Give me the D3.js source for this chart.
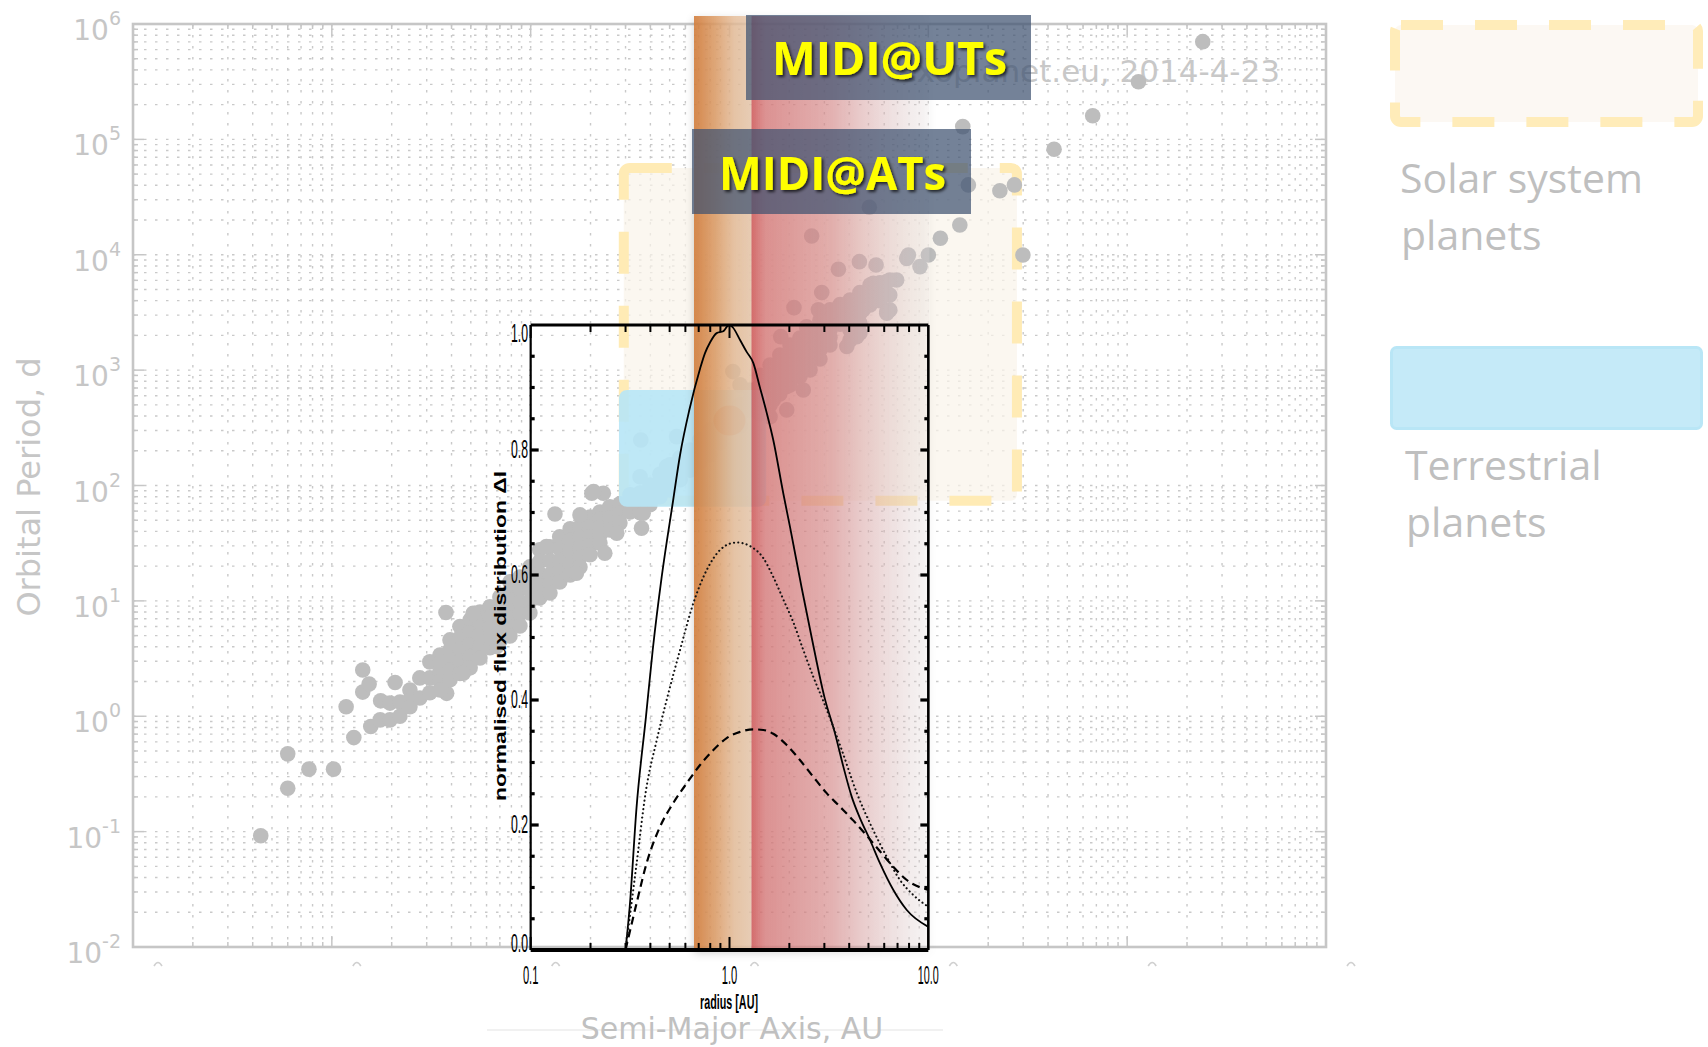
<!DOCTYPE html>
<html><head><meta charset="utf-8">
<script src="https://cdn.jsdelivr.net/npm/d3@7"></script>
<style>body{margin:0;background:#fff}svg{display:block}</style>
</head><body>
<svg id="c" width="1708" height="1047"></svg>
<script>
// ---------------- DATA ----------------
// exoplanets: [semi-major axis (AU), orbital period (d)]
const planets = [
 [0.00439,0.092],[0.0060,0.238],[0.0060,0.472],[0.00767,0.348],[0.0102,0.348],[0.0129,0.653],[0.0118,1.21],[0.0143,1.62],[0.0154,1.90],[0.0143,2.52],[0.0176,1.36],[0.0157,0.814],[0.0175,0.93],[0.0208,1.96],[0.0375,7.92],[0.0378,1.58],
 [0.0196,1.3],[0.0196,0.93],[0.0220,1.33],[0.0220,1.0],
 [0.0247,1.69],[0.0247,1.39],[0.0247,1.21],[0.0277,2.15],[0.0277,1.44],
 [0.0311,2.96],[0.0311,2.15],[0.0311,1.6],[0.035,3.4],[0.035,2.9],[0.035,2.43],[0.035,2.0],[0.035,1.69],
 [0.0393,4.59],[0.0393,3.76],[0.0393,3.08],[0.0393,2.52],[0.0393,2.07],
 [0.0441,6.0],[0.0441,4.8],[0.0441,3.8],[0.0441,3.0],[0.0441,2.35],
 [0.0496,6.84],[0.0496,5.3],[0.0496,4.16],[0.0496,3.3],[0.0496,2.63],
 [0.0556,8.0],[0.0556,6.4],[0.0556,5.07],[0.0556,4.0],[0.0556,3.2],
 [0.0624,8.87],[0.0624,7.2],[0.0624,5.83],[0.0624,4.8],[0.0624,3.92],
 [0.070,10.8],[0.070,8.7],[0.070,6.98],[0.070,5.6],[0.070,4.5],
 [0.0787,14.6],[0.0787,12.2],[0.0787,10.2],[0.0787,8.5],[0.0787,7.12],[0.0787,5.9],[0.0787,4.97],
 [0.0883,16.1],[0.0883,12.6],[0.0883,9.8],[0.0883,7.7],[0.0883,6.07],
 [0.0991,19.7],[0.0991,15.6],[0.0991,12.4],[0.0991,9.9],[0.0991,7.87],
 [0.111,27.7],[0.111,21.9],[0.111,17.3],[0.111,13.5],[0.111,10.6],
 [0.125,29.4],[0.125,22.2],[0.125,16.8],[0.125,14.0],[0.125,11.7],
 [0.140,35.9],[0.140,28.5],[0.140,22.6],[0.140,18.2],[0.140,14.6],
 [0.158,42.1],[0.158,33.5],[0.158,26.6],[0.158,21.1],[0.158,16.8],
 [0.177,43.8],[0.177,35.5],[0.177,28.8],[0.177,23.8],[0.177,19.7],
 [0.199,53.4],[0.199,43.8],[0.199,35.9],[0.199,30],[0.199,25.1],
 [0.223,59],[0.223,51],[0.223,43.8],[0.223,37.3],[0.223,31.8],
 [0.25,65.3],[0.25,52],[0.25,41.2],[0.281,69.3],[0.281,57],[0.281,47.4],
 [0.316,83],[0.316,70],[0.316,59],[0.355,86],[0.355,71],[0.355,58],
 [0.398,101],[0.398,83],[0.398,68],[0.447,125],[0.447,100],[0.447,80],
 [0.502,151],[0.502,118],[0.502,91.6],[0.564,175],[0.564,140],[0.564,112],
 [0.633,203],[0.633,166],[0.633,136],[0.711,250],[0.711,200],[0.711,160],
 [0.798,303],[0.798,236],[0.798,184],[0.896,340],[0.896,283],[0.896,235],
 [1.13,500],[1.13,406],[1.13,330],[1.268,673],[1.268,551],[1.268,452],
 [1.42,900],[1.42,735],[1.42,600],[1.42,502],[1.42,420],
 [1.6,1109],[1.6,909],[1.6,745],[1.6,610],[1.6,499],
 [1.79,1350],[1.79,1100],[1.79,900],[1.79,747],[1.79,620],
 [2.015,1652],[2.015,1353],[2.015,1109],[2.015,909],[2.015,745],
 [2.26,1900],[2.26,1570],[2.26,1300],[2.26,1070],[2.26,880],
 [2.54,2230],[2.54,1826],[2.54,1496],[2.54,1226],[2.54,1005],
 [2.85,2700],[2.85,2200],[2.85,1800],[2.85,1500],[2.85,1250],
 [3.2,3325],[3.2,2720],[3.2,2230],[3.2,1920],[3.2,1652],
 [3.6,3700],[3.6,3040],[3.6,2500],
 [4.04,4057],[4.04,3320],[4.04,2723],[4.04,2230],[4.04,1827],
 [4.53,4700],[4.53,3820],[4.53,3100],[4.53,2550],[4.53,2100],
 [5.09,5470],[5.09,4480],[5.09,3675],[5.71,5700],[5.71,4780],[5.71,4000],[6.4,6050],[6.4,4480],[6.4,3325],
 [0.0514,7.8],[0.12,29.6],[0.1325,56.7],[0.177,55.6],[0.203,85.7],[0.232,85.7],[0.207,88.6],[0.361,42.7],[0.236,25.9],[0.368,57.5],[0.271,38.6],[0.17,17.4],[0.0458,2.36],[0.0675,4.02],
 [0.358,248],[0.542,265],[0.355,119],[0.483,146],
 [1.04,971],[1.13,745],[1.6,395],[1.66,552],[1.94,452],[1.54,483],[1.94,720],[2.35,673],[2.09,940],[2.44,1310],[2.18,1600],[1.81,1950],[3.08,2090],[2.44,2380],[3.89,1600],[4.36,1950],[3.89,2720],[6.18,3210],[6.93,6050],[6.18,5850],[5.29,5660],[3.6,3550],[2.8,3330],[2.11,3480],[2.91,4700],[4.7,3330],[6.18,3110],
 [3.53,7480],[4.5,8710],[5.46,8160],[7.94,9960],[10.0,9960],[9.08,7890],[11.5,13900],[2.59,14550],[5.05,25800],[7.79,9300],
 [14.4,18100],[29.9,9960],[22.9,35900],[27.1,40300],[15.9,40300],[14.9,129000],[42.9,82000],[67.1,160000],[114,316000],[240,703000]
];
const earth = [1.0, 365.25];
const solarBoxA = [0.294, 27.9], solarBoxP = [73.6, 56600];
const terrBoxA = [0.278, 1.53], terrBoxP = [65.3, 673];
const yExps = [6,5,4,3,2,1,0,-1,-2];
const xExps = [-3,-2,-1,0,1,2,3];
// inset (flux distribution vs radius)
const solidR = [0.3,0.315,0.341,0.38,0.411,0.456,0.521,0.564,0.628,0.711,0.753,0.798,0.862,0.93,0.975,1.0,1.04,1.13,1.22,1.318,1.42,1.54,1.66,1.866,2.015,2.305,2.59,3.0,3.39,3.74,4.12,4.53,5.09,5.71,6.67,7.79,10];
const solidF = [0,0.07,0.229,0.373,0.48,0.597,0.72,0.792,0.864,0.93,0.955,0.972,0.987,0.99,0.998,1.0,0.996,0.976,0.957,0.939,0.901,0.859,0.816,0.73,0.677,0.58,0.50,0.405,0.347,0.293,0.245,0.211,0.176,0.139,0.096,0.064,0.037];
const dottedR = [0.3,0.34,0.38,0.43,0.483,0.564,0.658,0.768,0.896,1.0,1.09,1.29,1.48,1.66,1.87,2.09,2.35,2.64,2.95,3.67,4.37,5.19,6.18,7.2,8.4,10];
const dottedF = [0,0.135,0.255,0.335,0.40,0.48,0.555,0.608,0.64,0.65,0.652,0.645,0.627,0.597,0.56,0.525,0.48,0.437,0.40,0.32,0.251,0.197,0.149,0.112,0.088,0.069];
const dashedR = [0.3,0.341,0.383,0.447,0.521,0.61,0.711,0.83,0.968,1.13,1.318,1.48,1.66,1.94,2.26,2.64,3.08,3.6,4.2,4.9,5.71,6.67,7.79,10];
const dashedF = [0,0.075,0.139,0.197,0.235,0.267,0.296,0.32,0.339,0.349,0.353,0.352,0.346,0.328,0.304,0.277,0.251,0.229,0.207,0.183,0.158,0.133,0.112,0.096];
const insetYTicks = ["0.0","0.2","0.4","0.6","0.8","1.0"];
const insetXTicks = [[0.1,"0.1"],[1,"1.0"],[10,"10.0"]];
const orangeBandAU = [0.663, 1.29];
const redBandAU = [1.29, 10.1];
const labels = {ut:"MIDI@UTs", at:"MIDI@ATs"};

// ---------------- DRAW ----------------
const svg = d3.select('#c');
const defs = svg.append('defs');
const x = d3.scaleLog().domain([1e-3,1e3]).range([133,1326]);
const y = d3.scaleLog().domain([1e-2,1e6]).range([947,24]);
const xi = d3.scaleLog().domain([0.1,10]).range([x(0.1), x(10)]);
const yi = d3.scaleLinear().domain([0,1]).range([950,325]);
const GREY = '#c6c6c6';
const FONT = "'DejaVu Sans', sans-serif";
const NARROW = "'Liberation Sans Narrow','Liberation Sans',sans-serif";

const og = defs.append('linearGradient').attr('id','og');
[[0,'#d27d3c',0.9],[0.35,'#dc9a63',0.84],[0.7,'#e5bb96',0.8],[1,'#e7c6aa',0.8]].forEach(s=>og.append('stop').attr('offset',s[0]).attr('stop-color',s[1]).attr('stop-opacity',s[2]));
const rg = defs.append('linearGradient').attr('id','rg');
[[0,'#d05858',0.85],[0.04,'#d56a6a',0.8],[0.08,'#d87a7a',0.76],[0.45,'#dc8c8c',0.6],[0.75,'#e4bcbc',0.4],[1,'#ece2e2',0.2]].forEach(s=>rg.append('stop').attr('offset',s[0]).attr('stop-color',s[1]).attr('stop-opacity',s[2]));
const sh = defs.append('filter').attr('id','sh').attr('x','-10%').attr('y','-5%').attr('width','130%').attr('height','115%');
sh.append('feDropShadow').attr('dx',0).attr('dy',3).attr('stdDeviation',4).attr('flood-color','#000').attr('flood-opacity',0.22);
const ts = defs.append('filter').attr('id','ts').attr('x','-10%').attr('y','-20%').attr('width','130%').attr('height','150%');
ts.append('feDropShadow').attr('dx',2).attr('dy',2).attr('stdDeviation',1.5).attr('flood-color','#000').attr('flood-opacity',0.7);

// grid
const gridA = [], gridP = [];
for (let e=-3;e<3;e++) for (let k=1;k<10;k++) gridA.push([k*Math.pow(10,e), k===1]);
gridA.push([1e3,true]);
for (let e=-2;e<6;e++) for (let k=1;k<10;k++) gridP.push([k*Math.pow(10,e), k===1]);
gridP.push([1e6,true]);
const grid = svg.append('g').attr('stroke','#c9c9c9').attr('stroke-width',1.4).attr('stroke-dasharray','2.5,8.5');
grid.selectAll('.gx').data(gridA).join('line').attr('x1',d=>x(d[0])).attr('x2',d=>x(d[0])).attr('y1',24).attr('y2',947);
grid.selectAll('.gy').data(gridP).join('line').attr('y1',d=>y(d[0])).attr('y2',d=>y(d[0])).attr('x1',133).attr('x2',1326);

// ticks
const tk = svg.append('g').attr('stroke',GREY).attr('stroke-width',1.5);
gridA.forEach(d=>{const L=d[1]?11:5, X=x(d[0]);
  tk.append('line').attr('x1',X).attr('x2',X).attr('y1',947).attr('y2',947-L);
  tk.append('line').attr('x1',X).attr('x2',X).attr('y1',24).attr('y2',24+L);});
gridP.forEach(d=>{const L=d[1]?11:5, Y=y(d[0]);
  tk.append('line').attr('y1',Y).attr('y2',Y).attr('x1',133).attr('x2',133+L);
  tk.append('line').attr('y1',Y).attr('y2',Y).attr('x1',1326).attr('x2',1326-L);});
svg.append('rect').attr('x',133).attr('y',24).attr('width',1193).attr('height',923).attr('fill','none').attr('stroke',GREY).attr('stroke-width',2.6);

// y tick labels
yExps.forEach(e=>{
  const t = svg.append('text').attr('x',121).attr('y',y(Math.pow(10,e))+16).attr('text-anchor','end')
    .attr('font-family',FONT).attr('font-size',28).attr('fill',GREY);
  t.append('tspan').text('10');
  t.append('tspan').attr('dy',-15).attr('font-size',19).text(String(e));
});
svg.append('g').selectAll('path').data(xExps).join('path')
  .attr('d',e=>{const X=x(Math.pow(10,e))+25; return `M${X-4},966 Q${X},959 ${X+4},966`;})
  .attr('fill','none').attr('stroke','#d0d0d0').attr('stroke-width',1.6);

// axis titles
svg.append('text').attr('transform','translate(40,487) rotate(-90)').attr('text-anchor','middle')
  .attr('font-family',FONT).attr('font-size',32).attr('fill',GREY).text('Orbital Period, d');
svg.append('line').attr('x1',487).attr('x2',943).attr('y1',1030).attr('y2',1030).attr('stroke','#ececec').attr('stroke-width',1.5);
svg.append('text').attr('x',732).attr('y',1039).attr('text-anchor','middle')
  .attr('font-family',FONT).attr('font-size',30).attr('fill','#c0c0c0').text('Semi-Major Axis, AU');
svg.append('text').attr('x',1280).attr('y',82).attr('text-anchor','end')
  .attr('font-family',FONT).attr('font-size',31).attr('fill','#c8c8c8').text('exoplanet.eu, 2014-4-23');

// solar system box
svg.append('rect').attr('x',x(solarBoxA[0])).attr('y',y(solarBoxP[1]))
  .attr('width',x(solarBoxA[1])-x(solarBoxA[0])).attr('height',y(solarBoxP[0])-y(solarBoxP[1]))
  .attr('rx',6).attr('fill','#f9f3ea').attr('fill-opacity',0.7)
  .attr('stroke','#ffebb5').attr('stroke-width',10).attr('stroke-dasharray','42,32');

// planets
svg.append('g').selectAll('circle').data(planets).join('circle')
  .attr('cx',d=>x(d[0])).attr('cy',d=>y(d[1])).attr('r',7.8).attr('fill','#bdbdbd');

// terrestrial box
svg.append('rect').attr('x',x(terrBoxA[0])).attr('y',y(terrBoxP[1]))
  .attr('width',x(terrBoxA[1])-x(terrBoxA[0])).attr('height',y(terrBoxP[0])-y(terrBoxP[1]))
  .attr('rx',8).attr('fill','#b7e5f6').attr('fill-opacity',0.9);
svg.append('ellipse').attr('cx',x(earth[0])).attr('cy',y(earth[1])).attr('rx',16).attr('ry',15).attr('fill','#bdbdbd');

// bands
const bands = svg.append('g').attr('filter','url(#sh)');
bands.append('rect').attr('x',xi(orangeBandAU[0])).attr('y',16).attr('width',xi(orangeBandAU[1])-xi(orangeBandAU[0])).attr('height',950-16).attr('fill','url(#og)');
bands.append('rect').attr('x',xi(redBandAU[0])).attr('y',16).attr('width',xi(redBandAU[1])-xi(redBandAU[0])).attr('height',950-16).attr('fill','url(#rg)');

// ---- inset ----
const ins = svg.append('g');
const toPts = (R,F)=>R.map((r,i)=>[r,F[i]]);
const line = d3.line().x(d=>xi(d[0])).y(d=>yi(d[1])).curve(d3.curveMonotoneX);
ins.append('path').attr('d',line(toPts(solidR,solidF))).attr('fill','none').attr('stroke','#000').attr('stroke-width',1.8);
ins.append('path').attr('d',line(toPts(dottedR,dottedF))).attr('fill','none').attr('stroke','#111').attr('stroke-width',2.1).attr('stroke-linecap','round').attr('stroke-dasharray','0.1,4.2');
ins.append('path').attr('d',line(toPts(dashedR,dashedF))).attr('fill','none').attr('stroke','#000').attr('stroke-width',2.2).attr('stroke-dasharray','8,5');
const L0=xi(0.1), R0=xi(10);
ins.append('line').attr('x1',L0).attr('x2',R0).attr('y1',950).attr('y2',950).attr('stroke','#000').attr('stroke-width',4);
ins.append('line').attr('x1',L0).attr('x2',R0).attr('y1',325).attr('y2',325).attr('stroke','#000').attr('stroke-width',3.2);
ins.append('line').attr('x1',L0).attr('x2',L0).attr('y1',325).attr('y2',950).attr('stroke','#000').attr('stroke-width',2.2);
ins.append('line').attr('x1',R0).attr('x2',R0).attr('y1',325).attr('y2',950).attr('stroke','#000').attr('stroke-width',2.6);
const insX = [];
for (let e=-1;e<1;e++) for (let k=1;k<10;k++) insX.push([k*Math.pow(10,e), k===1]);
insX.forEach(d=>{const X=xi(d[0]), L=d[1]?13:7;
  ins.append('line').attr('x1',X).attr('x2',X).attr('y1',950).attr('y2',950-L).attr('stroke','#000').attr('stroke-width',2);
  ins.append('line').attr('x1',X).attr('x2',X).attr('y1',325).attr('y2',325+L).attr('stroke','#000').attr('stroke-width',2);});
for (let i=1;i<20;i++){const v=i*0.05, Y=yi(v), L=(i%4===0)?8:4;
  ins.append('line').attr('x1',L0).attr('x2',L0+L).attr('y1',Y).attr('y2',Y).attr('stroke','#000').attr('stroke-width',3.2);
  ins.append('line').attr('x1',R0).attr('x2',R0-L).attr('y1',Y).attr('y2',Y).attr('stroke','#000').attr('stroke-width',3.2);}
insetYTicks.forEach(s=>{const v=+s;
  ins.append('text').attr('x',528).attr('y',Math.min(952,Math.max(342,yi(v)+8))).attr('text-anchor','end')
   .attr('font-family',NARROW).attr('font-size',25).attr('fill','#000')
   .attr('textLength',17).attr('lengthAdjust','spacingAndGlyphs').text(s);});
insetXTicks.forEach(d=>{
  ins.append('text').attr('x',xi(d[0])).attr('y',984).attr('text-anchor','middle')
   .attr('font-family',NARROW).attr('font-size',25).attr('fill','#000')
   .attr('textLength',d[1].length>3?21:15.5).attr('lengthAdjust','spacingAndGlyphs').text(d[1]);});
ins.append('text').attr('x',729).attr('y',1009).attr('text-anchor','middle')
  .attr('font-family',NARROW).attr('font-weight','bold').attr('font-size',20).attr('fill','#000')
  .attr('textLength',58).attr('lengthAdjust','spacingAndGlyphs').text('radius [AU]');
ins.append('text').attr('transform','translate(506,636) rotate(-90)').attr('text-anchor','middle')
  .attr('font-family',"'Liberation Sans',sans-serif").attr('font-weight','bold').attr('font-size',17).attr('fill','#000')
  .attr('textLength',330).attr('lengthAdjust','spacingAndGlyphs').text('normalised  flux  distribution  \u0394I');

// MIDI labels
[[746,15,285,85,labels.ut,75,235],[692,129,279,85,labels.at,190,227]].forEach(b=>{
  svg.append('rect').attr('x',b[0]).attr('y',b[1]).attr('width',b[2]).attr('height',b[3]).attr('fill','#3e5270').attr('fill-opacity',0.72);
  svg.append('text').attr('x',b[0]+b[2]/2+1).attr('y',b[5]).attr('text-anchor','middle')
   .attr('font-family',"'Open Sans',sans-serif").attr('font-weight','bold').attr('font-size',47).attr('fill','#ffff00')
   .attr('textLength',b[6]).attr('lengthAdjust','spacingAndGlyphs').attr('filter','url(#ts)').text(b[4]);
});

// legend
svg.append('rect').attr('x',1395).attr('y',25).attr('width',303).attr('height',97).attr('rx',6)
  .attr('fill','#fcf8f3').attr('stroke','#ffecb9').attr('stroke-width',10).attr('stroke-dasharray','42,32');
svg.append('rect').attr('x',1391.5).attr('y',347.5).attr('width',310).attr('height',81).attr('rx',5)
  .attr('fill','#c5eaf8').attr('stroke','#b9e6f6').attr('stroke-width',3);
const LF = "'Open Sans',sans-serif";
[['Solar system',1400,193],['planets',1401,250],['Terrestrial',1405,480],['planets',1406,537]].forEach(t=>{
  svg.append('text').attr('x',t[1]).attr('y',t[2]).attr('font-family',LF).attr('font-size',41).attr('fill','#bfbfbf').text(t[0]);
});
</script>
</body></html>
